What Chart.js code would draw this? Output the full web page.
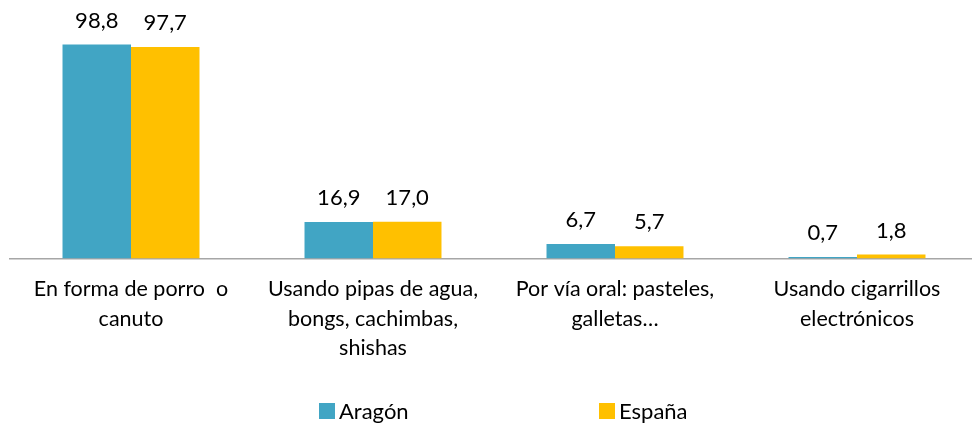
<!DOCTYPE html>
<html>
<head>
<meta charset="utf-8">
<script src="https://cdn.jsdelivr.net/npm/chart.js@4.4.1/dist/chart.umd.min.js"></script>
<style>
  body { margin: 0; background: #fff; overflow: hidden; }
  #wrap { position: relative; width: 972px; height: 423px; overflow: hidden; }
  #legend { position: absolute; top: 397px; left: 0; font-family: Lato, sans-serif; font-size: 22px; color: #000; }
  .item { position: absolute; white-space: nowrap; display: flex; align-items: center; }
  .box { width: 16px; height: 16px; margin-right: 4px; }
</style>
</head>
<body>
<div id="wrap">
  <canvas id="chart" width="980" height="423"></canvas>
  <div id="legend"></div>
</div>
<script>
// Datos
const categorias = [
    ['En forma de porro  o', 'canuto'],
    ['Usando pipas de agua,', 'bongs, cachimbas,', 'shishas'],
    ['Por vía oral: pasteles,', 'galletas…'],
    ['Usando cigarrillos', 'electrónicos']
];
const series = ['Aragón', 'España'];
const aragon = [98.8, 16.9, 6.7, 0.7];
const espana = [97.7, 17.0, 5.7, 1.8];
const colores = ['#41A5C4', '#FFC000'];

const fmt = v => v.toFixed(1).replace('.', ',');

// Etiquetas de valor encima de las barras
const etiquetas = {
    id: 'etiquetas',
    afterDatasetsDraw(chart) {
        const ctx = chart.ctx;
        ctx.save();
        ctx.font = '22px Lato, sans-serif';
        ctx.fillStyle = '#000';
        ctx.textAlign = 'center';
        ctx.textBaseline = 'alphabetic';
        chart.data.datasets.forEach((ds, i) => {
            chart.getDatasetMeta(i).data.forEach((bar, j) => {
                ctx.fillText(fmt(ds.data[j]), bar.x, bar.y - 17);
            });
        });
        ctx.restore();
    }
};

new Chart(document.getElementById('chart'), {
    type: 'bar',
    data: {
        labels: categorias,
        datasets: [
            { label: series[0], data: aragon, backgroundColor: colores[0], barPercentage: 1, categoryPercentage: 0.566 },
            { label: series[1], data: espana, backgroundColor: colores[1], barPercentage: 1, categoryPercentage: 0.566 }
        ]
    },
    options: {
        responsive: false,
        animation: false,
        layout: { padding: { left: 10, right: 2, top: 42, bottom: 44 } },
        scales: {
            x: {
                grid: { display: false, drawTicks: false },
                border: { display: true, color: '#A6A6A6', width: 1.5 },
                ticks: {
                    color: '#000',
                    padding: 16,
                    maxRotation: 0,
                    autoSkip: false,
                    font: { family: 'Lato, sans-serif', size: 21.5, lineHeight: 1.372 }
                }
            },
            y: { display: false, min: 0, max: 100 }
        },
        plugins: {
            legend: { display: false },
            tooltip: { enabled: false }
        }
    },
    plugins: [etiquetas]
});

// Leyenda
const legend = document.getElementById('legend');
const posiciones = [319, 599];
series.forEach((s, i) => {
    const item = document.createElement('div');
    item.className = 'item';
    item.style.left = posiciones[i] + 'px';
    item.innerHTML = '<span class="box" style="background:' + colores[i] + '"></span>' + s;
    legend.appendChild(item);
});
</script>
</body>
</html>
